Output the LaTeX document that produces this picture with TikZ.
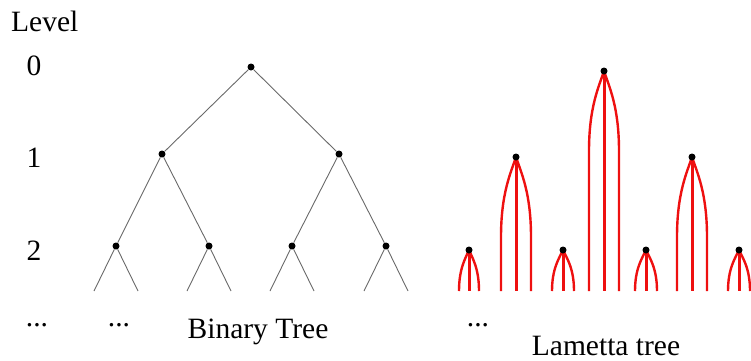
\documentclass[tikz,border=0pt]{standalone}
\usepackage{fontspec}
\setmainfont{Liberation Serif}
\begin{document}
\begin{tikzpicture}[x=1bp,y=-1bp,
  dot/.style={circle,fill=black,inner sep=0pt,minimum size=7bp},
  edge/.style={draw={rgb,255:red,105;green,105;blue,105},line width=0.9bp},
  strand/.style={draw={rgb,255:red,238;green,16;blue,16},line width=2.4bp},
  core/.style={draw={rgb,255:red,238;green,16;blue,16},line width=3bp},
  lbl/.style={inner sep=0pt,anchor=base,font=\fontsize{29.5bp}{32bp}\selectfont}]
\useasboundingbox (0,0) rectangle (751,360);

% level labels
\node[lbl,anchor=base west] (lev) at (11,31) {Level};
\node[lbl] (l0) at (34,75) {0};
\node[lbl] (l1) at (34,167) {1};
\node[lbl] (l2) at (34,260) {2};
\node[lbl] (d0) at (37,326) {...};
\node[lbl] (d1) at (119,326) {...};
\node[lbl] (d2) at (478,326) {...};
\node[lbl] (bt) at (258,338) {Binary Tree};
\node[lbl] (lt) at (606,355) {Lametta tree};

% binary tree
\node[dot] (r)  at (251,67) {};
\node[dot] (a)  at (162,154) {};
\node[dot] (b)  at (339,154) {};
\node[dot] (aa) at (116,246) {};
\node[dot] (ab) at (209,246) {};
\node[dot] (ba) at (292,246) {};
\node[dot] (bb) at (386,246) {};
\draw[edge] (r) -- (a);
\draw[edge] (r) -- (b);
\draw[edge] (a) -- (aa);
\draw[edge] (a) -- (ab);
\draw[edge] (b) -- (ba);
\draw[edge] (b) -- (bb);
\foreach \n/\x in {aa/116,ab/209,ba/292,bb/386}{
  \coordinate (\n-l) at (\x-22,291);
  \coordinate (\n-r) at (\x+22,291);
  \draw[edge] (\n) -- (\n-l);
  \draw[edge] (\n) -- (\n-r);
}

% lametta tree: each node hangs three strands
\foreach \n/\x/\y/\w/\h in {la/469/250/10/41, lb/516/157/15/80, lc/563/250/11/41,
    ld/604/71/15/80, le/646/250/11/41, lf/692/157/15/80, lg/739/250/11/41}{
  \coordinate (\n) at (\x,\y);
  \coordinate (\n-l) at (\x-\w,291);
  \coordinate (\n-c) at (\x,291);
  \coordinate (\n-r) at (\x+\w,291);
  \draw[strand] (\n) .. controls (\x-0.35*\w,\y+0.2*\h) and (\x-\w,\y+0.45*\h) .. (\x-\w,\y+\h) -- (\n-l);
  \draw[strand] (\n) .. controls (\x+0.35*\w,\y+0.2*\h) and (\x+\w,\y+0.45*\h) .. (\x+\w,\y+\h) -- (\n-r);
  \draw[core] (\n) -- (\n-c);
  \node[dot] (\n-dot) at (\n) {};
}
\end{tikzpicture}
\end{document}
